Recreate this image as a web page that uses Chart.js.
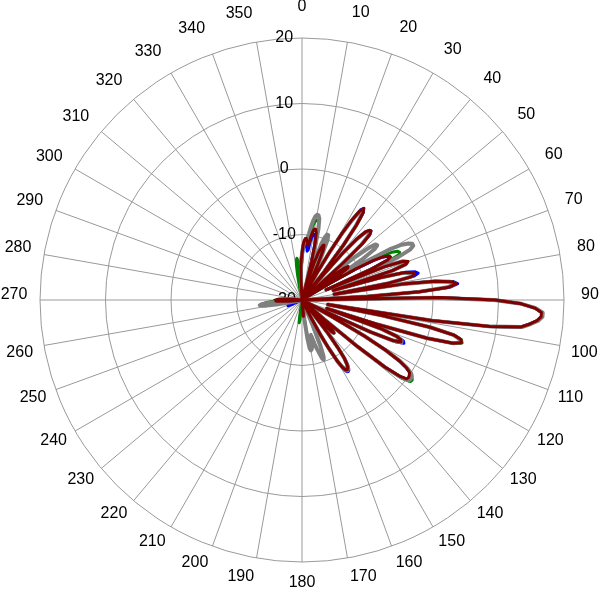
<!DOCTYPE html>
<html>
<head>
<meta charset="utf-8">
<script src="https://cdn.jsdelivr.net/npm/chart.js@4"></script>
<style>
  html, body { margin: 0; padding: 0; background: #fff; overflow: hidden; width: 600px; height: 589px; }
  #wrap { position: absolute; left: -98px; top: -3px; width: 800px; height: 596px; }
</style>
</head>
<body>
<div id="wrap"><canvas id="c"></canvas></div>
<script>
// angle categories: one per degree, 0 at top, clockwise
const angles = Array.from({ length: 360 }, (_, i) => String(i));
const radialTicks = [-20, -10, 0, 10, 20];

// dB values, one per degree (0..359)
const seriesRed = [
  -13,-11.8,-11,-10.6,-10.6,-11,-11.6,-11.4,-10.2,-9.4,
  -9,-9,-9.5,-11,-14,-18,-20,-17,-14,-12.5,
  -11.6,-11.1,-11,-11.7,-14,-18,-20,-20,-18,-15,
  -11.5,-8,-5.5,-3.8,-3.2,-3.7,-5.8,-9.5,-14.5,-20,
  -15.5,-10.5,-7.4,-5.8,-5.2,-5.1,-5.6,-7.4,-11.5,-17,
  -20,-16.5,-13.5,-12,-11.3,-11.5,-13,-16,-19,-15,
  -10.5,-7.5,-6,-5.2,-5,-5.6,-8.5,-16,-6.5,-3.6,
  -2.8,-3.2,-5.5,-15,-7.5,-3.8,-2.6,-2.3,-3,-6.5,
  -15,-4.5,0.5,3,3.7,2.5,-2,-10,-20,1,
  9.5,13.5,15.6,16.6,16.6,16,15,13.7,9,0,
  -16,-7.5,0,3.8,5,5.2,4,0,-8,-16,
  -7,-4.5,-3.7,-3.6,-4.8,-8.5,-14,-18,-20,-15,
  -9,-5,-2.5,-1,-0.2,0,0.1,0,-1.2,-3.8,
  -9,-15.5,-20,-17,-14.5,-13.3,-13,-13.5,-15.5,-19,
  -20,-17,-13.5,-11,-9,-8,-7.5,-7.3,-7.4,-8,
  -9.3,-11.5,-14,-17,-20,-20,-20,-20,-20,-20,
  -20,-20,-20,-20,-20,-20,-20,-20,-20,-20,
  -20,-20,-20,-19,-18,-17.5,-18,-19,-20,-20,
  -20,-20,-20,-20,-20,-20,-20,-20,-20,-20,
  -20,-20,-20,-20,-20,-20,-20,-20,-20,-20,
  -20,-20,-20,-20,-20,-20,-20,-20,-20,-20,
  -20,-20,-20,-20,-20,-20,-20,-20,-20,-20,
  -20,-20,-20,-20,-20,-20,-20,-20,-20,-20,
  -20,-20,-20,-20,-20,-20,-20,-20,-20,-20,
  -20,-20,-20,-20,-20,-20,-20,-20,-20,-20,
  -20,-20,-20,-20,-20,-20,-20,-20,-20,-20,
  -20,-20,-20,-20,-19,-18,-17,-16.3,-16,-16,
  -16,-16.2,-16.8,-17.5,-18.5,-19.5,-20,-20,-20,-20,
  -20,-20,-20,-20,-20,-20,-20,-20,-20,-20,
  -20,-20,-20,-20,-20,-20,-20,-20,-20,-20,
  -20,-20,-20,-20,-20,-20,-20,-20,-20,-20,
  -20,-20,-20,-20,-20,-20,-20,-20,-20,-20,
  -20,-20,-20,-20,-20,-20,-20,-20,-20,-20,
  -20,-20,-20,-20,-20,-20,-20,-20,-20,-20,
  -20,-20,-20,-20,-20,-20,-20,-20,-20,-20,
  -20,-20,-20,-20,-20,-20,-20,-17,-15,-13.8
];

const seriesBlue = [
  -14,-12.5,-11.8,-11.4,-11.4,-11.8,-12.5,-12.3,-11,-10.2,
  -9.8,-9.8,-10.2,-11.5,-14.5,-18,-20,-17,-14,-12.5,
  -11.6,-11.1,-11,-11.7,-14,-18,-20,-20,-18,-15,
  -11.5,-8,-5.5,-3.6,-3.1,-3.7,-5.8,-9.5,-14.5,-20,
  -15.5,-10.5,-7.4,-5.8,-5.2,-5.1,-5.6,-7.4,-11.5,-17,
  -20,-16.5,-13.5,-12,-11.3,-11.5,-13,-16,-19,-15,
  -10.5,-7.5,-6,-5.2,-5,-5.6,-8.5,-16,-6.5,-3.6,
  -2.8,-3.2,-5.5,-15,-7.5,-3.6,-2.2,-1.8,-2.5,-6.2,
  -15,-4.5,0.6,3.2,3.9,2.8,-2,-10,-20,1,
  9.5,13.5,15.6,16.6,16.7,16.1,15,13.7,9,0,
  -16,-7.5,0,3.8,5,5.2,4,0,-8,-16,
  -7,-4.4,-3.3,-3.1,-4.2,-8,-14,-18,-20,-15,
  -9,-5,-2.5,-1,0,0.2,0.3,0.2,-1,-3.8,
  -9,-15.5,-20,-17,-14.5,-13.3,-13,-13.5,-15.5,-19,
  -20,-17,-13.5,-11,-8.8,-7.8,-7.2,-7,-7.1,-7.7,
  -9,-11.3,-14,-17,-20,-20,-20,-20,-20,-20,
  -20,-20,-20,-20,-20,-20,-20,-20,-20,-20,
  -20,-20,-20,-20,-20,-20,-20,-20,-20,-20,
  -20,-20,-20,-20,-20,-20,-20,-20,-20,-20,
  -20,-20,-20,-20,-20,-20,-20,-20,-20,-20,
  -20,-20,-20,-20,-20,-20,-20,-20,-20,-20,
  -20,-20,-20,-20,-20,-20,-20,-20,-20,-20,
  -20,-20,-20,-20,-20,-20,-20,-20,-20,-20,
  -20,-20,-20,-20,-20,-20,-20,-20,-20,-20,
  -20,-20,-20,-20,-20,-20,-18.5,-17.7,-17.7,-18.5,
  -20,-20,-20,-20,-20,-20,-20,-20,-20,-20,
  -20,-20,-20,-20,-20,-19,-18,-17.2,-16.8,-16.8,
  -17,-17.5,-18,-19,-20,-20,-20,-20,-20,-20,
  -20,-20,-20,-20,-20,-20,-20,-20,-20,-20,
  -20,-20,-20,-20,-20,-20,-20,-20,-20,-20,
  -20,-20,-20,-20,-20,-20,-20,-20,-20,-20,
  -20,-20,-20,-20,-20,-20,-20,-20,-20,-20,
  -20,-20,-20,-20,-20,-20,-20,-20,-20,-20,
  -20,-20,-20,-20,-20,-20,-20,-20,-20,-20,
  -20,-20,-20,-20,-20,-20,-20,-20,-20,-20,
  -20,-20,-20,-20,-20,-20,-20,-18,-16,-14.8
];

const seriesGreen = [
  -12.8,-11.8,-11.2,-11,-11,-11.2,-11,-10,-8.8,-8,
  -7.7,-7.6,-7.8,-9,-12,-16,-20,-17,-14,-12,
  -10.6,-10.2,-10.5,-12.5,-16,-20,-20,-20,-18,-15,
  -11.5,-8,-5.6,-3.9,-3.4,-3.9,-6,-9.5,-14.5,-20,
  -15.5,-10.5,-7.6,-6,-5.4,-5.3,-5.8,-7.6,-11.5,-17,
  -20,-16.5,-13.5,-12,-11.3,-11.5,-13,-16,-19,-15,
  -9.5,-6.5,-4.5,-3.6,-3.4,-3.7,-6,-16,-6.5,-3.4,
  -2.9,-3.3,-5.5,-15,-7.5,-3.8,-2.7,-2.4,-3.1,-6.5,
  -15,-4.5,0.5,3,3.6,2.5,-2,-10,-20,1,
  9.5,13.5,15.6,16.7,16.7,16.1,15,13.8,9.2,0,
  -16,-7.5,0,3.9,5.1,5.3,4.1,0,-8,-16,
  -7,-4.6,-3.8,-3.8,-5,-8.5,-14,-18,-20,-15,
  -9,-5,-2.4,-0.8,0.2,0.5,0.8,0.7,-0.5,-3.5,
  -9,-15.5,-20,-17,-14.5,-13.3,-13,-13.5,-15.5,-19,
  -20,-17,-13.5,-11,-9.2,-8.2,-7.6,-7.4,-7.6,-8.3,
  -9.5,-11,-13,-16,-20,-20,-20,-20,-20,-20,
  -20,-20,-20,-20,-20,-20,-20,-20,-20,-20,
  -20,-20,-20,-20,-20,-20,-20,-20,-20,-20,
  -20,-20,-20,-20,-20,-18.5,-17,-16.5,-17.2,-19,
  -20,-20,-20,-20,-20,-20,-20,-20,-20,-20,
  -20,-20,-20,-20,-20,-20,-20,-20,-20,-20,
  -20,-20,-20,-20,-20,-20,-20,-20,-20,-20,
  -20,-20,-20,-20,-20,-20,-20,-20,-20,-20,
  -20,-20,-20,-20,-20,-20,-20,-20,-20,-20,
  -20,-20,-20,-20,-20,-20,-20,-20,-20,-20,
  -20,-20,-20,-20,-20,-20,-20,-20,-20,-20,
  -20,-20,-18,-16,-14.8,-14.3,-14.6,-15.5,-16.3,-16.3,
  -16.2,-16.4,-17,-17.7,-18.6,-19.5,-20,-20,-20,-20,
  -20,-20,-20,-20,-20,-20,-20,-20,-20,-20,
  -20,-20,-20,-20,-20,-20,-20,-20,-20,-20,
  -20,-20,-20,-20,-20,-20,-20,-20,-20,-20,
  -20,-20,-20,-20,-20,-20,-20,-20,-20,-20,
  -20,-20,-20,-20,-20,-20,-20,-20,-20,-20,
  -20,-20,-20,-20,-20,-20,-20,-20,-20,-20,
  -20,-20,-20,-20,-20,-20,-20,-20,-20,-18,
  -16,-14.5,-13.8,-13.6,-14,-15.5,-17.5,-16,-14.5,-13.5
];

const seriesGray = [
  -13,-12,-11.3,-11,-10.8,-10.5,-9.8,-8.8,-7.8,-7.1,
  -6.8,-6.8,-7.3,-8.8,-12,-16,-20,-17,-13.5,-11,
  -9.8,-9.3,-9.3,-10,-12.5,-17,-20,-20,-18,-15,
  -11.5,-8.2,-5.8,-4,-3.5,-4,-6,-9.5,-14.5,-20,
  -15.5,-10.5,-7.5,-6,-5.4,-5.4,-5.9,-7.6,-12,-18,
  -13,-9.5,-7,-5.9,-5.8,-6.5,-9,-14,-15,-8.5,
  -4.5,-2.6,-1.6,-1.1,-1.1,-1.8,-4,-14,-6,-3.6,
  -2.9,-3.3,-5.5,-15,-7.5,-4,-2.8,-2.5,-3.2,-6.5,
  -15,-4.7,0.3,2.8,3.5,2.3,-2.2,-10,-20,0,
  9.3,13.5,15.7,16.8,16.8,16.2,15.1,13.8,9.2,0.2,
  -16,-7.5,0,3.7,4.9,5.1,3.9,0,-8,-16,
  -7,-4.6,-3.6,-3.5,-4.7,-8.5,-14,-18,-20,-15,
  -9,-5,-2.3,-0.8,0.1,0.4,0.5,0.4,-0.8,-3.6,
  -9,-15.5,-20,-17,-14.5,-13.3,-13,-13.5,-15.5,-19,
  -20,-17,-13.5,-11,-9,-8,-7.4,-7.2,-7.3,-8,
  -9.3,-11.5,-14,-17,-20,-20,-20,-16,-12.5,-10.8,
  -10.3,-10.6,-11.5,-12.2,-13,-14,-14.5,-13.5,-12.6,-12.3,
  -12.2,-12.5,-14,-17,-20,-20,-20,-20,-20,-20,
  -20,-20,-20,-20,-20,-20,-20,-20,-20,-20,
  -20,-20,-20,-20,-20,-20,-20,-20,-20,-20,
  -20,-20,-20,-20,-20,-20,-20,-20,-20,-20,
  -20,-20,-20,-20,-20,-20,-20,-20,-20,-20,
  -20,-20,-20,-20,-20,-20,-20,-20,-20,-20,
  -20,-20,-20,-20,-20,-20,-20,-20,-20,-20,
  -20,-20,-20,-20,-20,-20,-20,-20,-20,-20,
  -20,-20,-20,-20,-20,-20,-20,-20,-20,-18,
  -16,-14.5,-13.7,-13.5,-13.8,-14.8,-16.3,-16.5,-16.2,-16.2,
  -16.2,-16.4,-17,-17.6,-18.5,-19.5,-20,-20,-20,-20,
  -20,-20,-20,-20,-20,-20,-20,-20,-20,-20,
  -20,-20,-20,-20,-20,-20,-20,-20,-20,-20,
  -20,-20,-20,-20,-20,-20,-20,-20,-20,-20,
  -20,-20,-20,-20,-20,-20,-20,-20,-20,-20,
  -20,-20,-20,-20,-20,-20,-20,-20,-20,-20,
  -20,-20,-20,-20,-20,-20,-20,-20,-20,-20,
  -20,-20,-20,-20,-20,-20,-20,-20,-20,-20,
  -20,-20,-20,-20,-20,-20,-20,-17.5,-15.5,-14
];

const FONT = '"Liberation Sans", Arial, sans-serif';

// distance of each angle label from the outer ring (layout only)
function labelPad(i) {
  if (i % 10 !== 0) return 0;
  const w = 8.9 * String(i).length;
  const t = i * Math.PI / 180;
  const s = Math.abs(Math.sin(t)), c = Math.cos(t);
  if (i === 90 || i === 270) return 18 - w / 2;
  return 18 - (w / 2) * s - (c < 0 ? -10 * c : 0);
}

const ds = (label, data, color, width) => ({
  label, data, borderColor: color, backgroundColor: color, borderWidth: width,
  fill: false, pointRadius: 0, pointHoverRadius: 0, tension: 0,
  borderJoinStyle: 'round', borderCapStyle: 'round'
});

new Chart(document.getElementById('c'), {
  type: 'radar',
  data: {
    labels: angles,
    datasets: [
      ds('red', seriesRed, '#800000', 3),
      ds('gray', seriesGray, '#808080', 4),
      ds('green', seriesGreen, '#008000', 3),
      ds('blue', seriesBlue, '#0000ff', 3)
    ]
  },
  options: {
    responsive: true,
    maintainAspectRatio: false,
    animation: false,
    events: [],
    layout: { padding: 0 },
    plugins: { legend: { display: false }, tooltip: { enabled: false }, title: { display: false } },
    scales: {
      r: {
        min: radialTicks[0],
        max: radialTicks[radialTicks.length - 1],
        startAngle: 0,
        afterBuildTicks: (scale) => { scale.ticks = radialTicks.map(v => ({ value: v })); },
        grid: { circular: true, color: '#999999', lineWidth: 1 },
        angleLines: {
          display: true,
          color: '#999999',
          lineWidth: (ctx) => (ctx.index % 10 === 0 ? 1 : 0)
        },
        ticks: {
          display: true,
          stepSize: 10,
          color: '#000',
          showLabelBackdrop: false,
          backdropPadding: 0,
          font: { family: FONT, size: 16 },
          callback: (v) => String(v) + '        '
        },
        pointLabels: {
          display: true,
          color: '#000',
          font: { family: FONT, size: 16, lineHeight: 0.625 },
          padding: (ctx) => labelPad(ctx.index),
          callback: (lbl, i) => {
            if (i % 10 !== 0) return '';
            return (i === 90 || i === 270) ? [lbl, ''] : lbl;
          }
        }
      }
    }
  }
});
</script>
</body>
</html>
